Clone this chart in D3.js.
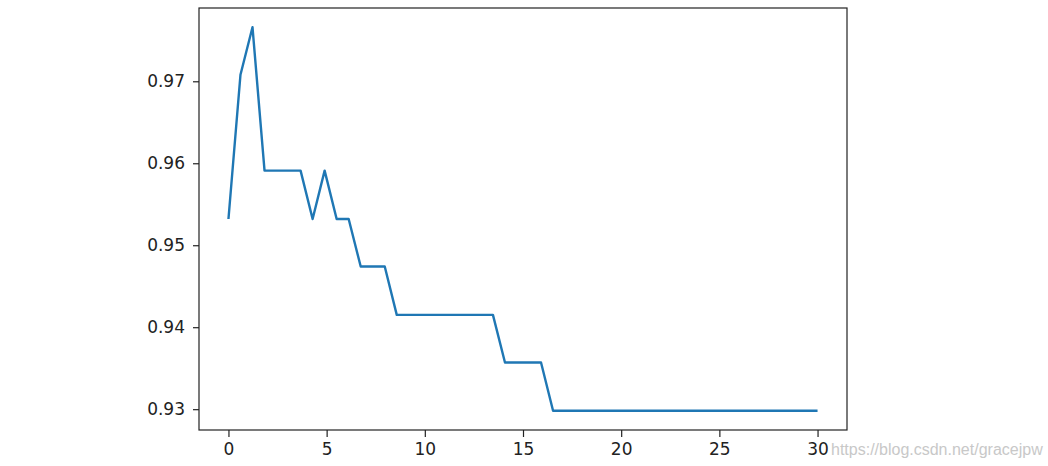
<!DOCTYPE html>
<html>
<head>
<meta charset="utf-8">
<script src="https://cdn.jsdelivr.net/npm/d3@7"></script>
<style>
  body { margin: 0; background: #fff; }
  svg { display: block; }
</style>
</head>
<body>
<svg id="chart"></svg>
<script>
// x positions of the points (0..30, 50 samples)
var xs = [0, 0.612, 1.224, 1.837, 2.449, 3.061, 3.673, 4.286, 4.898, 5.510,
          6.122, 6.735, 7.347, 7.959, 8.571, 9.184, 9.796, 10.408, 11.020, 11.633,
          12.245, 12.857, 13.469, 14.082, 14.694, 15.306, 15.918, 16.531, 17.143, 17.755,
          18.367, 18.980, 19.592, 20.204, 20.816, 21.429, 22.041, 22.653, 23.265, 23.878,
          24.490, 25.102, 25.714, 26.327, 26.939, 27.551, 28.163, 28.776, 29.388, 30];

// scores
var scores = [0.9532, 0.9708, 0.9766, 0.9591, 0.9591, 0.9591, 0.9591, 0.9532, 0.9591, 0.9532,
              0.9532, 0.9474, 0.9474, 0.9474, 0.9415, 0.9415, 0.9415, 0.9415, 0.9415, 0.9415,
              0.9415, 0.9415, 0.9415, 0.9357, 0.9357, 0.9357, 0.9357, 0.9298, 0.9298, 0.9298,
              0.9298, 0.9298, 0.9298, 0.9298, 0.9298, 0.9298, 0.9298, 0.9298, 0.9298, 0.9298,
              0.9298, 0.9298, 0.9298, 0.9298, 0.9298, 0.9298, 0.9298, 0.9298, 0.9298, 0.9298];

var xTicks = [0, 5, 10, 15, 20, 25, 30];
var yTicks = [0.93, 0.94, 0.95, 0.96, 0.97];

var width = 1048,
    height = 466;

var box = { left: 199, right: 847, top: 8, bottom: 430 };

var points = xs.map((x, i) => ({ x: x, y: scores[i] }));

// matplotlib style 5% margins
pad = (ext) => {
    var d = (ext[1] - ext[0]) * 0.05;
    return [ext[0] - d, ext[1] + d];
}

var x = d3.scaleLinear()
    .domain(pad(d3.extent(xs)))
    .range([box.left, box.right]);

var y = d3.scaleLinear()
    .domain(pad(d3.extent(scores)))
    .range([box.bottom, box.top]);

var svg = d3.select("#chart")
    .attr("width", width)
    .attr("height", height)
    .attr("font-family", "DejaVu Sans, sans-serif");

svg.append("rect")
    .attr("width", width)
    .attr("height", height)
    .attr("fill", "#fff");

svg.append("path")
    .datum(points)
    .attr("fill", "none")
    .attr("stroke", "#1f77b4")
    .attr("stroke-width", 2.4)
    .attr("stroke-linejoin", "round")
    .attr("d", d3.line().x(d => x(d.x)).y(d => y(d.y)));

var xAxis = svg.append("g")
    .attr("transform", `translate(0,${box.bottom})`)
    .call(d3.axisBottom(x).tickValues(xTicks).tickFormat(d3.format("d")).tickSize(7).tickPadding(6));

var yAxis = svg.append("g")
    .attr("transform", `translate(${box.left},0)`)
    .call(d3.axisLeft(y).tickValues(yTicks).tickFormat(d3.format(".2f")).tickSize(6).tickPadding(8));

[xAxis, yAxis].forEach(g => {
    g.select(".domain").remove();
    g.selectAll("line").attr("stroke", "#222").attr("stroke-width", 1.2);
    g.selectAll("text")
        .attr("fill", "#222")
        .attr("font-size", 17)
        .attr("font-family", "DejaVu Sans, sans-serif");
});

// frame
svg.append("rect")
    .attr("x", box.left)
    .attr("y", box.top)
    .attr("width", box.right - box.left)
    .attr("height", box.bottom - box.top)
    .attr("fill", "none")
    .attr("stroke", "#222")
    .attr("stroke-width", 1.2);

svg.append("text")
    .attr("x", 831)
    .attr("y", 455)
    .attr("fill", "#c8c8c8")
    .attr("font-size", 16)
    .attr("font-family", "Liberation Sans, Arial, sans-serif")
    .text("https://blog.csdn.net/gracejpw");
</script>
</body>
</html>
